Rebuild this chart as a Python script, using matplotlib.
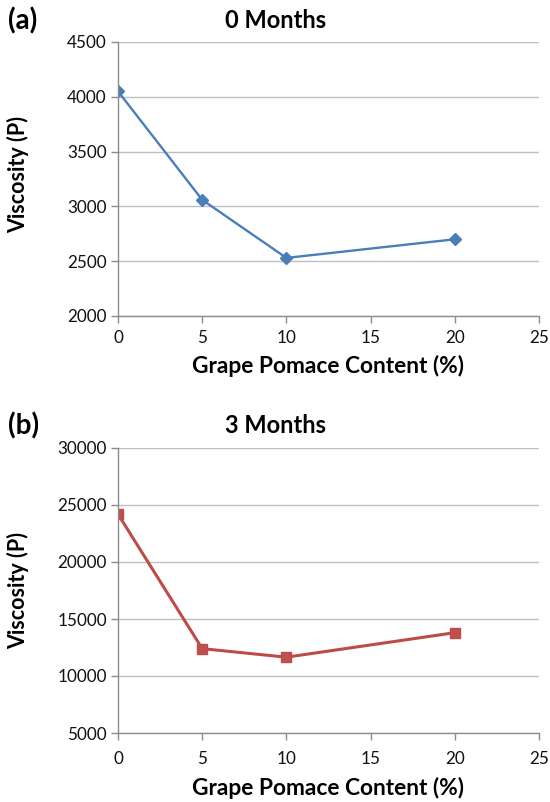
import matplotlib
matplotlib.use("Agg")
import matplotlib.pyplot as plt

plt.rcParams['font.family'] = ['Lato', 'DejaVu Sans']

# Grape pomace content (%) and viscosity (P)
content = [0, 5, 10, 20]
visc_0m = [4050, 3060, 2530, 2700]
visc_3m = [24200, 12400, 11650, 13800]

x_ticks = [0, 5, 10, 15, 20, 25]
y_ticks_a = [2000, 2500, 3000, 3500, 4000, 4500]
y_ticks_b = [5000, 10000, 15000, 20000, 25000, 30000]

W, H = 550, 802
fig = plt.figure(figsize=(W / 100, H / 100), dpi=100)

def px_axes(left, top, right, bottom):
    return fig.add_axes([left / W, 1 - bottom / H, (right - left) / W, (bottom - top) / H])

ax_a = px_axes(118, 42, 539, 316)
ax_b = px_axes(118, 448, 539, 733)

grid_c = '#bfbfbf'
spine_c = '#8c8c8c'

def style(ax, yticks, title, tag, tag_y, ylab_y, xpad, xlab_off):
    ax.set_xlim(0, 25)
    ax.set_ylim(yticks[0], yticks[-1])
    ax.set_xticks(x_ticks)
    ax.set_yticks(yticks)
    ax.grid(axis='y', color=grid_c, linewidth=1.0)
    ax.set_axisbelow(True)
    for s in ('top', 'right'):
        ax.spines[s].set_visible(False)
    for s in ('left', 'bottom'):
        ax.spines[s].set_color(spine_c)
        ax.spines[s].set_linewidth(1.0)
    ax.tick_params(axis='both', length=5, width=1.0, color=spine_c,
                   labelsize=12.3, labelcolor='#111111', pad=3)
    ax.tick_params(axis='x', pad=xpad)
    ax.set_ylabel('Viscosity (P)', fontsize=15.5, fontweight='bold')
    ax.yaxis.set_label_coords(-0.237, ylab_y)
    ax.yaxis.label.set_va('center')
    ax.set_xlabel('Grape Pomace Content (%)', fontsize=16.4, fontweight='bold')
    ax.xaxis.set_label_coords(0.5, -xlab_off / ax.bbox.height)
    ax.xaxis.label.set_va('center')
    ax.text(0.375, 1 + 22 / ax.bbox.height, title, transform=ax.transAxes,
            fontsize=17, fontweight='bold', ha='center', va='center')
    fig.text(8 / W, 1 - tag_y / H, tag, fontsize=20, fontweight='bold',
             ha='left', va='center')

ax_a.plot(content, visc_0m, color='#4a7ebb', linewidth=1.7, marker='D',
          markersize=6.5, markerfacecolor='#4a7ebb', markeredgecolor='#4a7ebb')
style(ax_a, y_ticks_a, '0 Months', '(a)', 21, 0.518, 5, 50)

ax_b.plot(content, visc_3m, color='#be4b48', linewidth=2.2, marker='s',
          markersize=7, markerfacecolor='#c0504d', markeredgecolor='#be4b48')
style(ax_b, y_ticks_b, '3 Months', '(b)', 426, 0.5, 8, 55)

fig.savefig('out.png', dpi=100)
